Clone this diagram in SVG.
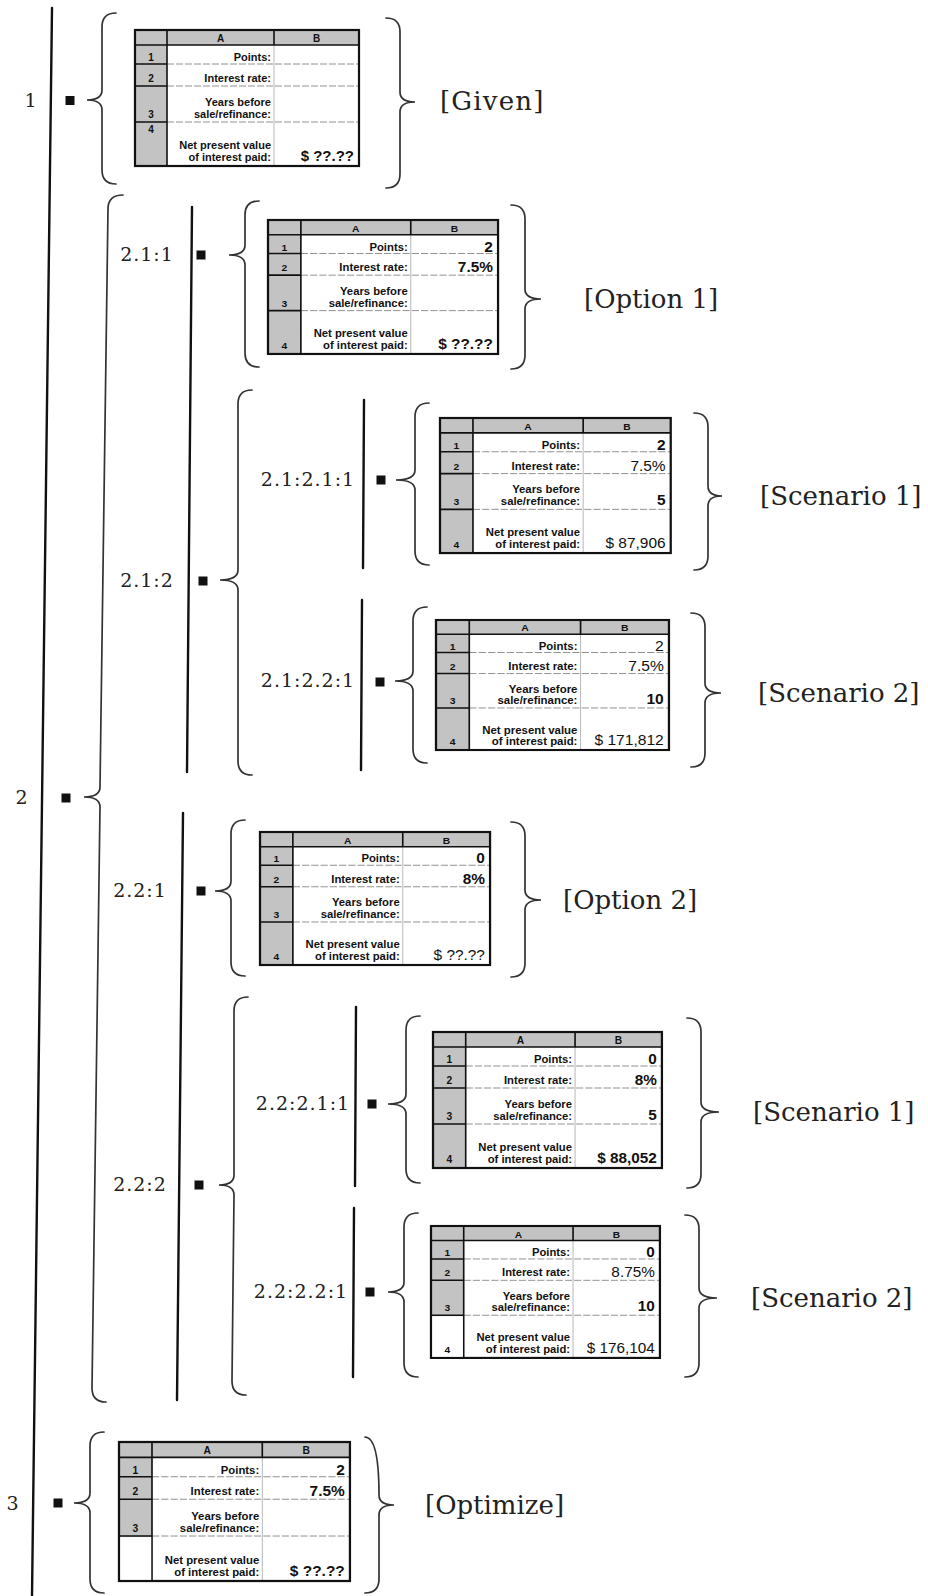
<svg xmlns="http://www.w3.org/2000/svg" xmlns:xlink="http://www.w3.org/1999/xlink" width="928" height="1596" viewBox="0 0 928 1596">
<style>
.bar{stroke:#111;stroke-width:2.4;fill:none;stroke-linecap:round}
.brace{stroke:#333;stroke-width:1.7;fill:none;stroke-linecap:round}
.bul{fill:#111}
.num{font-family:"DejaVu Serif",serif;font-size:19px;letter-spacing:1px;text-anchor:middle;fill:#222}
.br{font-family:"DejaVu Serif",serif;font-size:26px;fill:#222}
.lb{font-family:"Liberation Sans",Arial,sans-serif;font-weight:bold;font-size:11px;text-anchor:end;fill:#111}
.hd{font-family:"Liberation Sans",Arial,sans-serif;font-weight:bold;font-size:10px;text-anchor:middle;fill:#111}
.rn{font-family:"Liberation Sans",Arial,sans-serif;font-weight:bold;font-size:10px;text-anchor:middle;fill:#111}
.v{font-family:"Liberation Sans",Arial,sans-serif;font-weight:bold;font-size:15px;text-anchor:end;fill:#111}
.vn{font-family:"Liberation Sans",Arial,sans-serif;font-size:15px;text-anchor:end;fill:#111}
.gray{fill:#c3c3c3}
.dash{stroke:#777;stroke-width:0.8;stroke-dasharray:7 2;fill:none}
.thin{stroke:#999;stroke-width:0.7;fill:none}
.blk{stroke:#111;stroke-width:1.6;fill:none}
.frame{stroke:#111;stroke-width:2.2;fill:none}
.wh{fill:#fff}
</style>
<defs>
<g id="tbl">
<rect width="224" height="136" fill="#fff"/>
<rect class="gray" width="224" height="15"/>
<rect class="gray" y="15" width="32" height="121"/>
<path class="dash" d="M32,34H224M32,56H224M32,92H224"/>
<path class="thin" d="M139,15V136"/>
<path class="blk" d="M0,34H32M0,56H32M0,92H32M0,15H224M32,0V136M139,0V15"/>
<rect class="frame" width="224" height="136"/>
<text class="hd" x="85.5" y="12">A</text>
<text class="hd" x="181.5" y="12">B</text>
<text class="lb" x="136" y="31">Points:</text>
<text class="lb" x="136" y="52">Interest rate:</text>
<text class="lb" x="136" y="76">Years before</text>
<text class="lb" x="136" y="88">sale/refinance:</text>
<text class="lb" x="136" y="119">Net present value</text>
<text class="lb" x="136" y="131">of interest paid:</text>
<text class="rn" x="16" y="31">1</text>
<text class="rn" x="16" y="52">2</text>
<text class="rn" x="16" y="88">3</text>
</g>
</defs>
<rect width="928" height="1596" fill="#fff"/>

<g id="connectors">
<path class="bar" d="M52,8 L32,1596"/>
<path class="bar" d="M192,207 L187,772"/>
<path class="bar" d="M183,813 L177,1400"/>
<path class="bar" d="M364,400 L363,568"/>
<path class="bar" d="M362,600 L361,770"/>
<path class="bar" d="M356,1007 L355,1186"/>
<path class="bar" d="M354,1208 L353,1377"/>
</g>

<g id="n1">
<text class="num" x="31" y="107">1</text>
<rect class="bul" x="65.5" y="96" width="9" height="9"/>
<path class="brace" d="M116,13 Q102,13 102,27 L102,90 Q102,100 87,100 Q102,100 102,110 L102,170 Q102,184 116,184"/>
<g transform="translate(135,30)">
<use xlink:href="#tbl" href="#tbl"/>
<text class="rn" x="16" y="103">4</text>
<text class="v" x="219" y="131">$ ??.??</text>
</g>
<path class="brace" d="M386,18 Q400,18 400,32 L400,92 Q400,102 415,102 Q400,102 400,112 L400,174 Q400,188 386,188"/>
<text class="br" x="440" y="110" letter-spacing="1.2">[Given]</text>
</g>

<g id="n2">
<text class="num" x="22" y="804">2</text>
<rect class="bul" x="61.5" y="793.5" width="9" height="9"/>
<path class="brace" d="M123,195 Q108,195 108,209 L100,787 Q100,797 84,797 Q100,797 100,807 L92,1388 Q92,1402 106,1402"/>
</g>

<g id="n2-1-1">
<text class="num" x="147" y="261">2.1:1</text>
<rect class="bul" x="196.5" y="250.5" width="9" height="9"/>
<path class="brace" d="M259,201 Q245,201 245,215 L245,245 Q245,255 229,255 Q245,255 245,265 L245,353 Q245,367 259,367"/>
<g transform="translate(268,220) scale(1.027,0.985)">
<use xlink:href="#tbl" href="#tbl"/>
<text class="rn" x="16" y="131">4</text>
<text class="v" x="219" y="32">2</text>
<text class="v" x="219" y="53">7.5%</text>
<text class="v" x="219" y="131">$ ??.??</text>
</g>
<path class="brace" d="M511,205 Q525,205 525,219 L525,289 Q525,299 541,299 Q525,299 525,309 L525,355 Q525,369 511,369"/>
<text class="br" x="584" y="308">[Option 1]</text>
</g>

<g id="n2-1-2">
<text class="num" x="147" y="587">2.1:2</text>
<rect class="bul" x="198.5" y="576.5" width="9" height="9"/>
<path class="brace" d="M252,390 Q238,390 238,404 L238,570 Q238,580 220,580 Q238,580 238,590 L238,761 Q238,775 252,775"/>
</g>

<g id="n2-1-2-1-1">
<text class="num" x="308" y="486">2.1:2.1:1</text>
<rect class="bul" x="376.5" y="475.5" width="9" height="9"/>
<path class="brace" d="M429,403 Q415,403 415,417 L415,470 Q415,480 396,480 Q415,480 415,490 L415,551 Q415,565 429,565"/>
<g transform="translate(440,418) scale(1.03,0.993)">
<use xlink:href="#tbl" href="#tbl"/>
<text class="rn" x="16" y="131">4</text>
<text class="v" x="219" y="32">2</text>
<text class="vn" x="219" y="53">7.5%</text>
<text class="v" x="219" y="88">5</text>
<text class="vn" x="219" y="131">$ 87,906</text>
</g>
<path class="brace" d="M694,413 Q708,413 708,427 L708,486 Q708,496 722,496 Q708,496 708,506 L708,556 Q708,570 694,570"/>
<text class="br" x="760" y="505">[Scenario 1]</text>
</g>

<g id="n2-1-2-2-1">
<text class="num" x="308" y="687">2.1:2.2:1</text>
<rect class="bul" x="375.5" y="677.5" width="9" height="9"/>
<path class="brace" d="M427,607 Q413,607 413,621 L413,671 Q413,681 395,681 Q413,681 413,691 L413,749 Q413,763 427,763"/>
<g transform="translate(436,620) scale(1.04,0.956)">
<use xlink:href="#tbl" href="#tbl"/>
<text class="rn" x="16" y="131">4</text>
<text class="vn" x="219" y="32">2</text>
<text class="vn" x="219" y="53">7.5%</text>
<text class="v" x="219" y="88">10</text>
<text class="vn" x="219" y="131">$ 171,812</text>
</g>
<path class="brace" d="M691,613 Q705,613 705,627 L705,683 Q705,693 721,693 Q705,693 705,703 L705,753 Q705,767 691,767"/>
<text class="br" x="758" y="702">[Scenario 2]</text>
</g>

<g id="n2-2-1">
<text class="num" x="140" y="897">2.2:1</text>
<rect class="bul" x="196.5" y="886.5" width="9" height="9"/>
<path class="brace" d="M245,820 Q231,820 231,834 L231,881 Q231,891 215,891 Q231,891 231,901 L231,962 Q231,976 245,976"/>
<g transform="translate(260,832) scale(1.027,0.978)">
<use xlink:href="#tbl" href="#tbl"/>
<text class="rn" x="16" y="131">4</text>
<text class="v" x="219" y="32">0</text>
<text class="v" x="219" y="53">8%</text>
<text class="vn" x="219" y="131">$ ??.??</text>
</g>
<path class="brace" d="M511,822 Q525,822 525,836 L525,890 Q525,900 541,900 Q525,900 525,910 L525,963 Q525,977 511,977"/>
<text class="br" x="563" y="909">[Option 2]</text>
</g>

<g id="n2-2-2">
<text class="num" x="140" y="1191">2.2:2</text>
<rect class="bul" x="194.5" y="1180.5" width="9" height="9"/>
<path class="brace" d="M248,997 Q234,997 234,1011 L234,1175 Q234,1185 219,1185 Q234,1185 234,1195 L232,1381 Q232,1395 246,1395"/>
</g>

<g id="n2-2-2-1-1">
<text class="num" x="303" y="1110">2.2:2.1:1</text>
<rect class="bul" x="367.5" y="1099.5" width="9" height="9"/>
<path class="brace" d="M420,1016 Q406,1016 406,1030 L406,1094 Q406,1104 388,1104 Q406,1104 406,1114 L406,1169 Q406,1183 420,1183"/>
<g transform="translate(433,1032) scale(1.022,1)">
<use xlink:href="#tbl" href="#tbl"/>
<text class="rn" x="16" y="131">4</text>
<text class="v" x="219" y="32">0</text>
<text class="v" x="219" y="53">8%</text>
<text class="v" x="219" y="88">5</text>
<text class="v" x="219" y="131">$ 88,052</text>
</g>
<path class="brace" d="M687,1018 Q701,1018 701,1032 L701,1102 Q701,1112 719,1112 Q701,1112 701,1122 L701,1174 Q701,1188 687,1188"/>
<text class="br" x="753" y="1121">[Scenario 1]</text>
</g>

<g id="n2-2-2-2-1">
<text class="num" x="301" y="1298">2.2:2.2:1</text>
<rect class="bul" x="365.5" y="1287.5" width="9" height="9"/>
<path class="brace" d="M418,1213 Q404,1213 404,1227 L404,1282 Q404,1292 388,1292 Q404,1292 404,1302 L404,1363 Q404,1377 418,1377"/>
<g transform="translate(431,1226) scale(1.022,0.97)">
<use xlink:href="#tbl" href="#tbl"/>
<rect class="wh" x="1.2" y="93" width="30" height="41.8"/>
<text class="rn" x="16" y="131">4</text>
<text class="v" x="219" y="32">0</text>
<text class="vn" x="219" y="53">8.75%</text>
<text class="v" x="219" y="88">10</text>
<text class="vn" x="219" y="131">$ 176,104</text>
</g>
<path class="brace" d="M685,1215 Q699,1215 699,1229 L699,1288 Q699,1298 717,1298 Q699,1298 699,1308 L699,1363 Q699,1377 685,1377"/>
<text class="br" x="751" y="1307">[Scenario 2]</text>
</g>

<g id="n3">
<text class="num" x="13" y="1510">3</text>
<rect class="bul" x="53.5" y="1498.5" width="9" height="9"/>
<path class="brace" d="M104,1432 Q90,1432 90,1446 L90,1493 Q90,1503 74,1503 Q90,1503 90,1513 L90,1579 Q90,1593 104,1593"/>
<g transform="translate(119,1442) scale(1.031,1.022)">
<use xlink:href="#tbl" href="#tbl"/>
<rect class="wh" x="1.2" y="93" width="30" height="41.8"/>
<text class="v" x="219" y="32">2</text>
<text class="v" x="219" y="53">7.5%</text>
<text class="v" x="219" y="131">$ ??.??</text>
</g>
<path class="brace" d="M365,1437 Q379,1437 379,1495 Q379,1505 394,1505 Q379,1505 379,1515 L379,1579 Q379,1593 365,1593"/>
<text class="br" x="425" y="1514">[Optimize]</text>
</g>
</svg>
